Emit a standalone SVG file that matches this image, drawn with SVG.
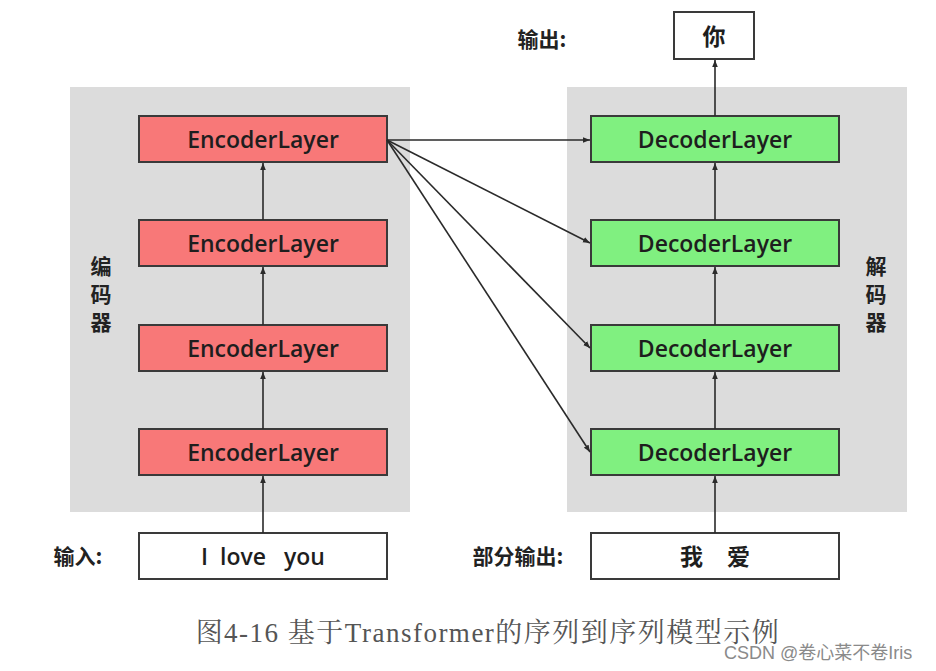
<svg xmlns="http://www.w3.org/2000/svg" width="936" height="671" viewBox="0 0 936 671">
<style>
.panel{fill:#dcdcdc}
.enc{fill:#f87878;stroke:#3a3a3a;stroke-width:2}
.dec{fill:#80f080;stroke:#3a3a3a;stroke-width:2}
.wbox{fill:#fff;stroke:#3a3a3a;stroke-width:2}
.lbl{font-family:"Open Sans","Liberation Sans","Noto Sans CJK SC",sans-serif;font-size:23px;font-weight:600;fill:#1e1e1e;text-anchor:middle;dominant-baseline:central}
.side{font-family:"Noto Sans CJK SC",sans-serif;font-size:21px;fill:#222;font-weight:bold;text-anchor:middle}
.conn{stroke:#2a2a2a;stroke-width:1.6;fill:none;marker-end:url(#ah)}
.cap{font-family:"Liberation Serif","Noto Serif CJK SC","Noto Sans CJK SC",serif;font-size:27px;letter-spacing:1.5px;fill:#555;text-anchor:middle}
.wm{font-family:"Liberation Sans","Noto Sans CJK SC",sans-serif;font-size:18px;fill:#8a8a8a}
</style>
<defs>
<marker id="ah" viewBox="0 0 10 10" refX="10" refY="5" markerWidth="7" markerHeight="7" markerUnits="userSpaceOnUse" orient="auto">
<path d="M0,1 L10,5 L0,9 z" fill="#2a2a2a"/>
</marker>
</defs>
<rect width="936" height="671" fill="#fff"/>
<g id="encoder-panel"><rect class="panel" x="70" y="87" width="340" height="425"/>
<text class="side" x="101" y="274">编</text><text class="side" x="101" y="302">码</text><text class="side" x="101" y="330">器</text></g>
<g id="decoder-panel"><rect class="panel" x="567" y="87" width="340" height="425"/>
<text class="side" x="876" y="274">解</text><text class="side" x="876" y="302">码</text><text class="side" x="876" y="330">器</text></g>
<g id="enc1"><rect class="enc" x="139" y="116" width="248" height="46"/><text class="lbl" x="263" y="139">EncoderLayer</text></g>
<g id="enc2"><rect class="enc" x="139" y="220" width="248" height="46"/><text class="lbl" x="263" y="243">EncoderLayer</text></g>
<g id="enc3"><rect class="enc" x="139" y="325" width="248" height="46"/><text class="lbl" x="263" y="348">EncoderLayer</text></g>
<g id="enc4"><rect class="enc" x="139" y="429" width="248" height="46"/><text class="lbl" x="263" y="452">EncoderLayer</text></g>
<g id="dec1"><rect class="dec" x="591" y="116" width="248" height="46"/><text class="lbl" x="715" y="139">DecoderLayer</text></g>
<g id="dec2"><rect class="dec" x="591" y="220" width="248" height="46"/><text class="lbl" x="715" y="243">DecoderLayer</text></g>
<g id="dec3"><rect class="dec" x="591" y="325" width="248" height="46"/><text class="lbl" x="715" y="348">DecoderLayer</text></g>
<g id="dec4"><rect class="dec" x="591" y="429" width="248" height="46"/><text class="lbl" x="715" y="452">DecoderLayer</text></g>
<g id="input"><rect class="wbox" x="139" y="533" width="248" height="46"/><text class="lbl" x="263" y="556" xml:space="preserve">I  love   you</text>
<text class="side" x="78" y="564">输入:</text></g>
<g id="partial"><rect class="wbox" x="591" y="533" width="248" height="46"/><text class="lbl" x="715" y="556" xml:space="preserve">我    爱</text>
<text class="side" x="518" y="564">部分输出:</text></g>
<g id="output"><rect class="wbox" x="674" y="12" width="80" height="47"/><text class="lbl" x="714" y="36">你</text>
<text class="side" x="542" y="47">输出:</text></g>
<g id="connectors">
<line class="conn" x1="263" y1="533" x2="263" y2="476"/>
<line class="conn" x1="263" y1="429" x2="263" y2="372"/>
<line class="conn" x1="263" y1="325" x2="263" y2="267"/>
<line class="conn" x1="263" y1="220" x2="263" y2="163"/>
<line class="conn" x1="715" y1="533" x2="715" y2="476"/>
<line class="conn" x1="715" y1="429" x2="715" y2="372"/>
<line class="conn" x1="715" y1="325" x2="715" y2="267"/>
<line class="conn" x1="715" y1="220" x2="715" y2="163"/>
<line class="conn" x1="715" y1="116" x2="715" y2="60"/>
<line class="conn" x1="387" y1="140" x2="590" y2="140"/>
<line class="conn" x1="387" y1="140" x2="590" y2="243"/>
<line class="conn" x1="387" y1="140" x2="590" y2="348"/>
<line class="conn" x1="387" y1="140" x2="590" y2="452"/>
</g>
<text class="cap" x="488" y="642">图4-16 基于Transformer的序列到序列模型示例</text>
<text class="wm" x="724" y="659">CSDN @卷心菜不卷Iris</text>
</svg>
